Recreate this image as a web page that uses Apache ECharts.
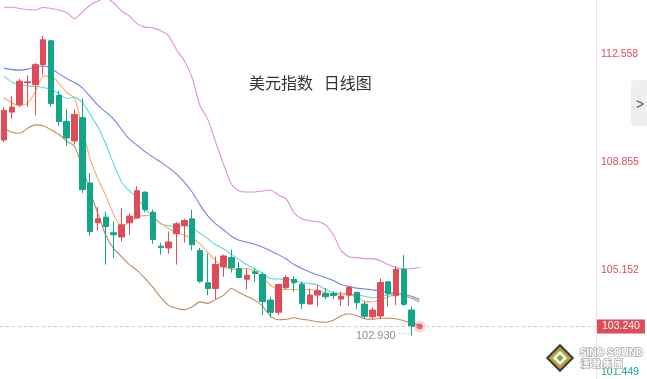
<!DOCTYPE html>
<html><head><meta charset="utf-8">
<script src="https://cdn.jsdelivr.net/npm/echarts@6/dist/echarts.min.js"></script>
<style>html,body{margin:0;padding:0;background:#fff}#c{width:647px;height:379px}</style>
</head><body><div id="c"></div>
<script>
const categories = ['1','2','3','4','5','6','7','8','9','10','11','12','13','14','15','16','17','18','19','20','21','22','23','24','25','26','27','28','29','30','31','32','33','34','35','36','37','38','39','40','41','42','43','44','45','46','47','48','49','50','51','52','53','54','55','56','57','58','59','60','61','62','63','64','65','66','67','68','69','70','71','72','73','74','75','76'];
// [open, close, low, high]
const ohlc = [
[109.613,110.622,109.535,110.724],[110.564,110.734,110.340,111.107],[110.825,111.617,110.734,111.698],
[111.563,111.597,110.747,111.821],[111.505,112.184,110.452,112.242],[112.184,113.033,111.844,113.169],
[112.999,110.859,110.757,113.033],[111.131,110.238,110.088,111.277],[110.248,109.681,109.409,110.656],
[109.579,110.486,109.467,110.656],[110.374,107.915,107.802,111.029],[108.142,106.488,106.332,108.482],
[106.783,106.919,106.522,107.327],[106.977,106.657,105.357,107.167],[106.444,106.376,105.584,106.827],
[106.298,106.715,106.148,107.283],[106.783,107.011,106.376,107.113],[106.943,107.881,106.919,108.030],
[107.826,107.235,107.147,107.860],[107.147,106.216,106.070,107.235],[105.985,105.934,105.696,106.104],
[105.924,106.128,105.730,106.488],[106.410,106.749,105.357,106.807],[106.692,106.861,106.104,106.919],
[106.919,106.036,105.842,107.225],[105.842,104.789,104.735,105.924],[104.735,104.541,104.304,105.730],
[104.541,105.357,104.178,105.628],[105.279,105.652,104.939,105.696],[105.594,105.245,105.085,105.866],
[105.221,104.915,104.905,105.448],[104.857,104.993,104.518,105.221],[105.109,105.051,104.769,105.221],
[105.017,104.090,103.635,105.085],[104.144,103.726,103.546,104.260],[103.726,104.677,103.635,104.690],
[104.565,104.915,104.518,104.993],[104.847,104.735,104.429,104.959],[104.688,104.032,103.838,104.769],
[104.008,104.314,104.000,104.541],[104.314,104.474,103.930,104.654],[104.372,104.260,104.178,104.565],
[104.372,104.300,104.178,104.450],[104.178,104.280,103.954,104.430],[104.314,104.576,103.954,104.620],
[104.406,104.056,103.838,104.430],[104.008,103.590,103.505,104.090],[103.573,103.804,103.488,103.896],
[103.600,104.745,103.488,104.881],[104.769,104.372,103.920,104.796],[104.294,105.197,103.974,105.306],
[105.197,103.998,103.947,105.679],[103.804,103.240,102.930,103.930]
];
const bollUpper = [114.144,114.144,114.103,114.069,114.052,114.137,114.103,114.052,113.967,113.747,113.984,114.222,114.358,114.460,114.290,114.018,113.849,113.577,113.465,113.441,113.339,113.169,112.694,112.320,111.743,110.791,110.316,109.535,108.787,108.108,107.870,107.836,107.836,107.870,107.904,107.734,107.599,107.123,106.919,106.851,106.817,106.715,106.376,105.832,105.628,105.594,105.560,105.560,105.492,105.357,105.255,105.204,105.221,105.255];
const bollMid = [112.065,112.014,111.997,112.031,112.099,112.140,112.065,111.878,111.709,111.573,111.393,111.097,110.791,110.571,110.316,109.976,109.637,109.433,109.212,109.025,108.855,108.669,108.448,108.176,107.836,107.395,107.021,106.749,106.546,106.325,106.189,106.121,106.053,105.951,105.832,105.696,105.544,105.357,105.221,105.102,105.000,104.915,104.813,104.678,104.609,104.552,104.525,104.491,104.457,104.406,104.372,104.338,104.270,104.168];
const ma10 = [111.793,111.590,111.488,111.461,111.437,111.403,111.335,111.199,111.029,111.080,110.893,110.486,110.044,109.467,108.787,108.176,107.870,107.632,107.259,106.987,106.749,106.681,106.671,106.681,106.613,106.427,106.240,106.036,105.900,105.713,105.527,105.340,105.204,105.051,104.881,104.864,104.847,104.813,104.745,104.711,104.660,104.508,104.406,104.372,104.355,104.321,104.277,104.226,104.260,104.321,104.355,104.304,104.202,104.066];
const ma5 = [111.053,110.883,110.775,110.859,111.250,111.793,111.793,111.556,111.233,111.046,110.044,108.957,108.278,107.711,107.055,106.648,106.817,106.970,107.038,106.987,106.766,106.579,106.444,106.359,106.257,106.070,105.764,105.492,105.272,105.204,105.187,105.221,105.119,104.915,104.643,104.525,104.508,104.508,104.525,104.491,104.474,104.389,104.321,104.355,104.321,104.253,104.100,104.083,104.151,104.253,104.338,104.372,104.253,104.100];
const bollLower = [110.010,109.874,109.840,110.010,110.129,110.095,109.959,109.806,109.569,109.399,108.685,107.836,107.089,106.352,105.900,105.628,105.357,105.153,104.881,104.576,104.236,103.964,103.862,103.811,103.913,104.083,104.032,104.168,104.304,104.541,104.406,104.270,104.134,103.930,103.590,103.471,103.488,103.539,103.488,103.454,103.403,103.386,103.454,103.607,103.675,103.607,103.505,103.488,103.522,103.522,103.505,103.437,103.352,103.284];
const yTickLabels = [101.449, 105.152, 108.855, 112.558];
const yMin = 101.449, yMax = 114.392;
const lastPrice = 103.240;
const lowLabel = '102.930';
const title = '美元指数   日线图';

const RED = '#e04b5a', GREEN = '#12a588';
const chart = echarts.init(document.getElementById('c'), null, {renderer: 'canvas'});
function line(name, data, color) {
  return {type: 'line', name, data, showSymbol: false, symbol: 'none', smooth: 0.2,
    lineStyle: {width: 1.1, color}, itemStyle: {color}, z: 3, silent: true};
}
const lastIdx = bollLower.length - 1;
chart.setOption({
  animation: false,
  title: {text: title, left: 244, top: 70, textStyle: {fontSize: 16, fontWeight: 'normal', color: '#333', fontFamily: 'Noto Sans CJK SC'}},
  grid: {left: -5, right: 51, top: 0, bottom: -2, containLabel: false},
  xAxis: {type: 'category', data: categories, boundaryGap: true, show: false},
  yAxis: {type: 'value', position: 'right', min: yMin, max: yMax, scale: true,
    axisLine: {show: true, lineStyle: {color: '#e6e6e6', width: 1}},
    axisTick: {show: false}, splitLine: {show: false},
    axisLabel: {customValues: yTickLabels, margin: 5, fontSize: 10.5, fontFamily: 'Liberation Sans',
      color: (v) => (parseFloat(v) >= lastPrice ? RED : GREEN),
      formatter: (v) => {
        const s = Number(v).toFixed(3);
        return Math.abs(v - yTickLabels[0]) < 1e-6 ? '{low|' + s + '}' : s;
      },
      rich: {low: {color: GREEN, fontSize: 10.5, fontFamily: 'Liberation Sans', padding: [0, 0, 14, 0]}}
    }
  },
  graphic: [
    {type: 'rect', left: 631, top: 80, shape: {width: 18, height: 46, r: [4, 0, 0, 4]}, style: {fill: '#efefef'}, z: 10},
    {type: 'text', left: 636, top: 98, style: {text: '>', fill: '#555', font: '14px "Liberation Sans"'}, z: 11},
    {type: 'group', x: 560, y: 358, z: 10, children: [
      {type: 'rect', shape: {x: -9, y: -9, width: 18, height: 18}, rotation: Math.PI / 4, style: {fill: '#b9a23c', stroke: '#3a3a3a', lineWidth: 2}},
      {type: 'rect', shape: {x: -5, y: -5, width: 10, height: 10}, rotation: Math.PI / 4, style: {fill: '#fff'}},
      {type: 'rect', shape: {x: -2.5, y: -2.5, width: 5, height: 5}, rotation: Math.PI / 4, style: {fill: '#6aa84f'}}
    ]},
    {type: 'text', left: 579, top: 347, z: 10, style: {text: 'SINO SOUND', fill: '#fff', stroke: '#a8a8a8', lineWidth: 1.5, font: 'bold 10px "Liberation Sans"'}},
    {type: 'text', left: 580, top: 358, z: 10, style: {text: '漢 聲 集 團', fill: '#fff', stroke: '#a8a8a8', lineWidth: 1.5, font: 'bold 9px "Noto Sans CJK TC"'}}
  ],
  series: [
    line('BOLL-UP', bollUpper, '#e28fdc'),
    line('BOLL-MID', bollMid, '#7a7cf0'),
    line('MA10', ma10, '#62d2ea'),
    line('MA5', ma5, '#f9aa68'),
    line('BOLL-LOW', bollLower, '#c08a5e'),
    {type: 'candlestick', data: ohlc, barWidth: 6, z: 4,
      itemStyle: {color: RED, color0: GREEN, borderColor: RED, borderColor0: GREEN, borderWidth: 1},
      markLine: {symbol: ['none', 'none'], silent: true, animation: false,
        lineStyle: {type: [3, 3], color: '#f3b9c2', width: 1},
        label: {show: true, position: 'end', distance: 1, formatter: lastPrice.toFixed(3), color: '#fff',
          backgroundColor: RED, padding: [2, 5, 1, 5], fontSize: 10.5, fontFamily: 'Liberation Sans'},
        data: [{yAxis: lastPrice}]},
      markPoint: {symbol: 'circle', symbolSize: 1, itemStyle: {color: 'rgba(0,0,0,0)'},
        label: {show: true, position: 'left', distance: 1, formatter: '{a|' + lowLabel + '}{b| ····}',
          rich: {a: {color: '#8a8f99', fontSize: 11, fontFamily: 'Liberation Sans'}, b: {color: '#aaa', fontSize: 9, padding: [0, 0, 5, 0]}}},
        data: [{type: 'min', valueDim: 'lowest'}]}
    },
    {type: 'scatter', data: [[lastIdx, lastPrice]], symbolSize: 6, z: 6,
      itemStyle: {color: RED, borderColor: 'rgba(224,75,90,0.28)', borderWidth: 6}}
  ]
});
</script></body></html>
